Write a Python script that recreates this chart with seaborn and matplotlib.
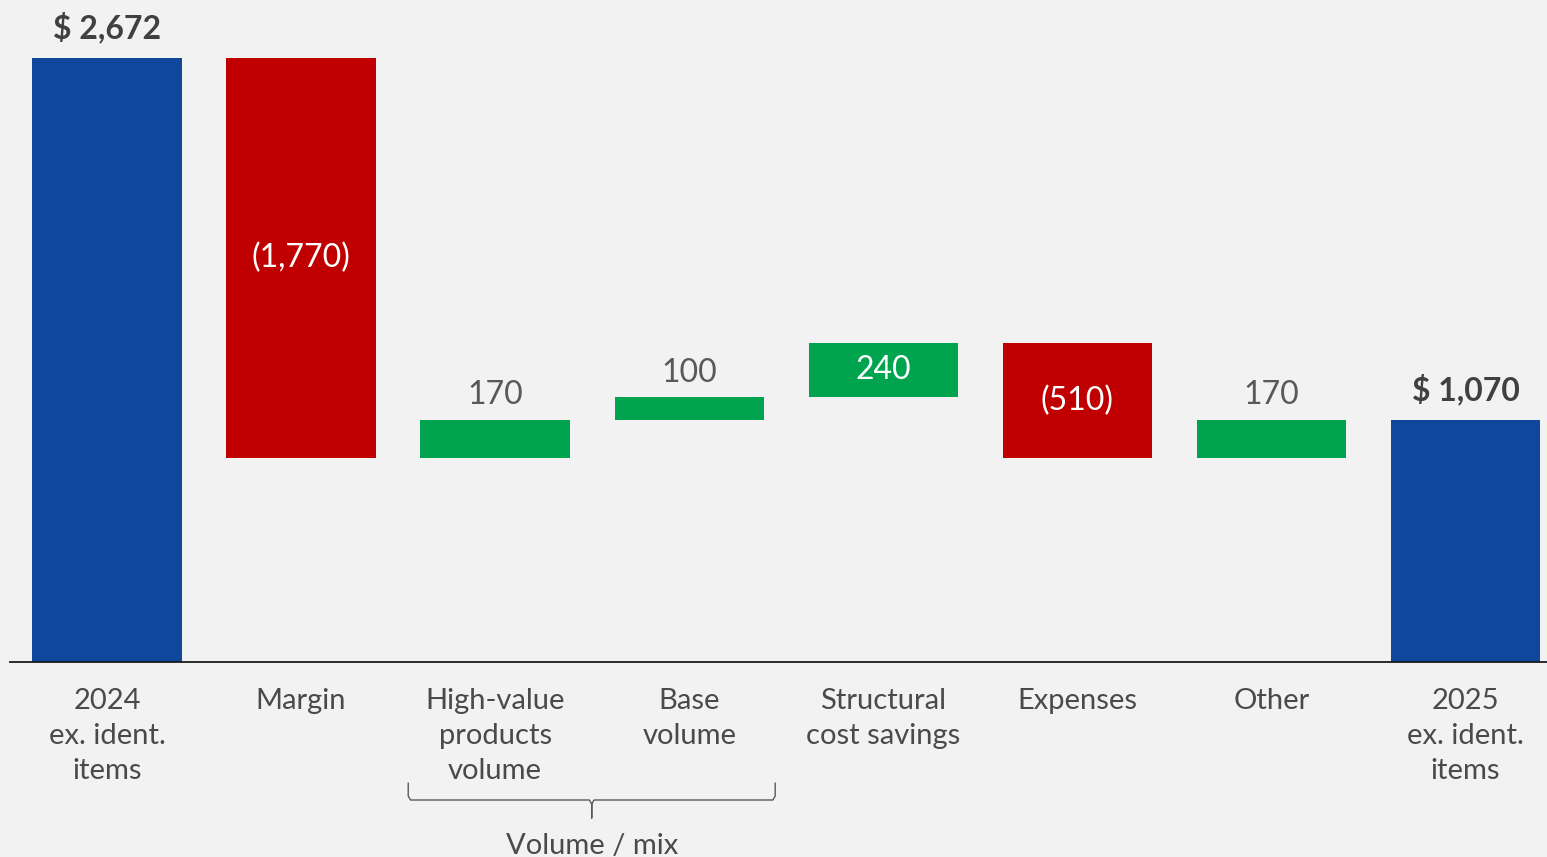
import numpy as np
import pandas as pd
import matplotlib
matplotlib.use("Agg")
import matplotlib.pyplot as plt
import seaborn as sns

# ---- data ----
categories = ["2024\nex. ident.\nitems", "Margin", "High-value\nproducts\nvolume",
              "Base\nvolume", "Structural\ncost savings", "Expenses", "Other",
              "2025\nex. ident.\nitems"]
values = [2672, -1770, 170, 100, 240, -510, 170, 1070]
kinds = ["total", "delta", "delta", "delta", "delta", "delta", "delta", "total"]
value_labels = ["$ 2,672", "(1,770)", "170", "100", "240", "(510)", "170", "$ 1,070"]
label_inside = [False, True, False, False, True, True, False, False]
group_label = "Volume / mix"
group_members = [2, 3]

BG = "#F2F2F2"
BLUE = "#0E479C"
RED = "#C00000"
GREEN = "#00A34E"

# compute bottoms / heights of waterfall
bottoms, heights, colors = [], [], []
running = 0
for v, k in zip(values, kinds):
    if k == "total":
        bottoms.append(0)
        heights.append(v)
        colors.append(BLUE)
        running = v
    else:
        start = running
        running = running + v
        bottoms.append(min(start, running))
        heights.append(abs(v))
        colors.append(GREEN if v > 0 else RED)

df = pd.DataFrame({"cat": categories, "height": heights})

sns.set_theme(style="white")
plt.rcParams["font.family"] = ["Lato", "DejaVu Sans"]

fig = plt.figure(figsize=(15.47, 8.57), dpi=100, facecolor=BG)
ax = fig.add_axes([10 / 1547, 195 / 857, 1 - 10 / 1547, 662 / 857])
ax.set_facecolor(BG)

sns.barplot(data=df, x="cat", y="height", hue="cat", palette=colors,
            width=0.77, legend=False, ax=ax, saturation=1, linewidth=0)

for p, b, h in zip(ax.patches, bottoms, heights):
    p.set_y(b)
    p.set_height(h)

ax.set_xlim(-0.5, 7.42)
ax.set_ylim(0, 2928.6)

for s in ["top", "right", "left"]:
    ax.spines[s].set_visible(False)
ax.spines["bottom"].set_color("#1A1A1A")
ax.spines["bottom"].set_linewidth(1.3)
ax.set_yticks([])
ax.set_xlabel("")
ax.set_ylabel("")
ax.tick_params(axis="x", length=0, pad=19)
ax.set_xticks(range(len(categories)))
ax.set_xticklabels(categories, fontsize=21, color="#4A4A4A", linespacing=1.42,
                   fontweight="normal", va="top")

# value labels
for i, (lab, b, h, inside, k) in enumerate(zip(value_labels, bottoms, heights, label_inside, kinds)):
    if inside:
        ax.text(i, b + h / 2, lab, ha="center", va="center", color="white",
                fontsize=23, fontweight="normal")
    elif k == "total":
        ax.annotate(lab, (i, b + h), xytext=(0, 14), textcoords="offset points",
                    ha="center", va="baseline", color="#404040", fontsize=23,
                    fontweight="bold")
    else:
        ax.annotate(lab, (i, b + h), xytext=(0, 11), textcoords="offset points",
                    ha="center", va="baseline", color="#595959", fontsize=23,
                    fontweight="normal")

# brace under grouped categories
trans = ax.get_xaxis_transform()
px = 1 / 662.0
x0 = group_members[0] - 0.448
x1 = group_members[-1] + 0.443
xm = (x0 + x1) / 2
y_top = -(783 - 662) * px
y_mid = -(800 - 662) * px
y_tip = -(818 - 662) * px
dx = 0.012
lc = "#595959"
ax.plot([x0, x0, x0 + dx, xm - dx, xm, xm, xm, xm + dx, x1 - dx, x1, x1],
        [y_top, y_mid + 4 * px, y_mid, y_mid, y_mid - 4 * px, y_tip, y_mid - 4 * px,
         y_mid, y_mid, y_mid + 4 * px, y_top],
        transform=trans, color=lc, lw=1.0, clip_on=False)
ax.text(xm, -(846 - 662) * px, group_label, transform=trans, ha="center", va="center",
        fontsize=21, color="#4A4A4A", fontweight="normal")

fig.savefig("out.png", dpi=100, facecolor=BG)
